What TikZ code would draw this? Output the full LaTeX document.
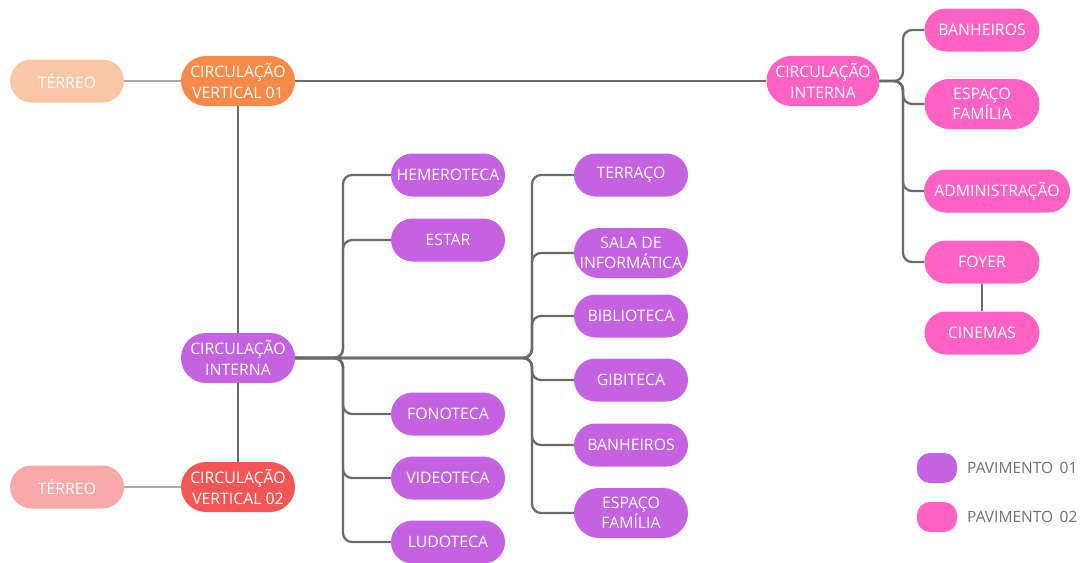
\documentclass[tikz,border=0pt]{standalone}
\usepackage{fontspec}
\setmainfont{Open Sans}
\definecolor{cpurple}{HTML}{C462E2}
\definecolor{cpink}{HTML}{FF62C3}
\definecolor{corange}{HTML}{F78A48}
\definecolor{cred}{HTML}{F45656}
\definecolor{cpeach}{HTML}{FBC6A6}
\definecolor{crose}{HTML}{F9A9A9}
\definecolor{cline}{HTML}{6A6A6A}
\definecolor{clight}{HTML}{A8A8A8}
\definecolor{ctext}{HTML}{707070}
\tikzset{
  pill/.style={rounded corners=21.5pt, minimum width=114pt, minimum height=43pt,
    inner sep=0pt, text=white, align=center, font=\fontsize{15.8}{20.5}\selectfont},
  tall/.style={minimum height=50pt, rounded corners=25pt},
  p1/.style={pill, fill=cpurple},
  p2/.style={pill, fill=cpink},
  conn/.style={draw=cline, line width=2.3pt, rounded corners=9pt},
  lconn/.style={draw=clight, line width=2pt},
  legtext/.style={text=ctext, anchor=west, inner sep=0pt, font=\fontsize{15.5}{18}\selectfont}
}
\begin{document}
\begin{tikzpicture}[x=1pt,y=-1pt]
\useasboundingbox (0,0) rectangle (1089,562);
% left column
\node[pill, fill=cpeach] (t1) at (67,81) {TÉRREO};
\node[pill, tall, fill=corange] (cv1) at (238,81) {CIRCULAÇÃO\\VERTICAL 01};
\node[p1, tall] (ci1) at (238,358) {CIRCULAÇÃO\\INTERNA};
\node[pill, tall, fill=cred] (cv2) at (238,487) {CIRCULAÇÃO\\VERTICAL 02};
\node[pill, fill=crose] (t2) at (67,487) {TÉRREO};
% first purple column
\node[p1] (hem) at (448,175) {HEMEROTECA};
\node[p1] (est) at (448,240) {ESTAR};
\node[p1] (fon) at (448,414) {FONOTECA};
\node[p1] (vid) at (448,478) {VIDEOTECA};
\node[p1] (lud) at (448,542) {LUDOTECA};
% second purple column
\node[p1] (ter) at (631,175) {TERRAÇO};
\node[p1, tall] (sal) at (631,253) {SALA DE\\INFORMÁTICA};
\node[p1] (bib) at (631,316) {BIBLIOTECA};
\node[p1] (gib) at (631,380) {GIBITECA};
\node[p1] (ban1) at (631,445) {BANHEIROS};
\node[p1, tall] (esp1) at (631,513) {ESPAÇO\\FAMÍLIA};
% pink part
\node[p2, tall, minimum width=113pt] (ci2) at (823,81) {CIRCULAÇÃO\\INTERNA};
\node[p2, minimum width=115pt] (ban2) at (982,30) {BANHEIROS};
\node[p2, tall, minimum width=115pt] (esp2) at (982,104) {ESPAÇO\\FAMÍLIA};
\node[p2, minimum width=146pt] (adm) at (997,191) {ADMINISTRAÇÃO};
\node[p2, minimum width=115pt] (foy) at (982,262) {FOYER};
\node[p2, minimum width=115pt] (cin) at (982,333) {CINEMAS};
% legend
\node[fill=cpurple, rounded corners=13pt, minimum width=40pt, minimum height=30pt, inner sep=0pt] (lg1) at (937,468) {};
\node[fill=cpink, rounded corners=13pt, minimum width=40pt, minimum height=30pt, inner sep=0pt] (lg2) at (937,517) {};
\node[legtext] (lt1) at (967,468) {PAVIMENTO\, 01};
\node[legtext] (lt2) at (967,517) {PAVIMENTO\, 02};
% connectors
\draw[lconn] (t1.east) -- (cv1.west);
\draw[lconn] (t2.east) -- (cv2.west);
\draw[conn] (cv1.east) -- (ci2.west);
\draw[conn] (cv1.south) -- (ci1.north);
\draw[conn] (ci1.south) -- (cv2.north);
\coordinate (j1) at (343,358);
\coordinate (j2) at (532,358);
\foreach \n in {hem,est,fon,vid,lud}
  \draw[conn] (ci1.east) -- (j1) -- (j1 |- \n.west) -- (\n.west);
\foreach \n in {ter,sal,bib,gib,ban1,esp1}
  \draw[conn] (ci1.east) -- (j2) -- (j2 |- \n.west) -- (\n.west);
\coordinate (j3) at (903,81);
\foreach \n in {ban2,esp2,adm,foy}
  \draw[conn] (ci2.east) -- (j3) -- (j3 |- \n.west) -- (\n.west);
\draw[conn] (foy.south) -- (cin.north);
\end{tikzpicture}
\end{document}
